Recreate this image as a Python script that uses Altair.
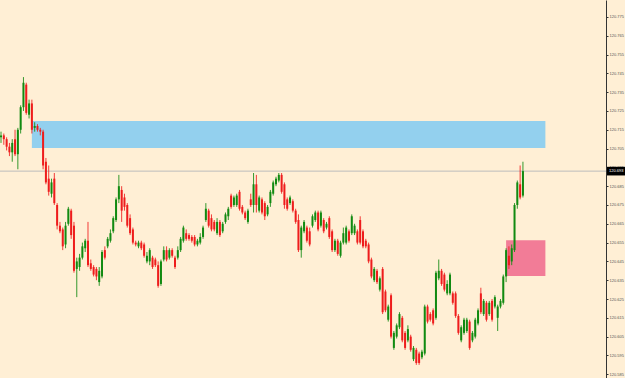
import altair as alt
import pandas as pd

# Prices are stored in points: price = 120 + pts / 1000
BASE = 120.0

open_pts = [711, 712, 710, 706, 703, 710, 702, 715,
            727, 739, 723, 729, 716, 717, 715, 714, 698, 689,
            681, 689, 675, 664, 662, 654, 665, 672, 664, 641,
            642, 647, 652, 656, 644, 642, 641, 634, 637, 651,
            653, 656, 661, 667, 678, 683, 679, 675, 668, 662,
            655, 653, 655, 654, 645, 645, 647, 646, 643, 633, 646,
            651, 647, 651, 647, 647, 651, 656, 660, 659, 658, 658, 654,
            655, 658, 667, 672, 668, 666, 660, 666, 661, 666,
            669, 680, 675, 675, 682, 674, 671, 666, 678, 675, 686,
            672, 678, 676, 670, 676, 681, 686, 688, 691, 686,
            678, 676, 677, 672, 667, 651, 661, 663, 661,
            664, 667, 671, 664, 667, 663, 668, 661, 651, 656,
            648, 655, 655, 661, 660, 660, 661, 667, 661, 656,
            654, 646, 635, 640, 630, 641, 629, 614, 627,
            599, 605, 610, 615, 607, 603, 605, 593, 598, 596,
            594, 596, 621, 617, 619, 615, 636, 640, 638, 628,
            628, 628, 628, 616, 603, 607, 608, 613, 603, 605,
            612, 628, 617, 623, 617, 624, 621, 615, 621, 623,
            637, 648, 645, 651, 675, 686, 680]

close_pts = [712, 710, 706, 703, 708, 702, 715, 727,
             740, 724, 729, 715, 717, 715, 714, 696, 687, 682,
             687, 676, 664, 661, 653, 664, 673, 659, 640, 645,
             647, 653, 656, 643, 641, 638, 637, 640, 650, 647,
             657, 660, 668, 678, 685, 672, 674, 664, 660, 655,
             654, 655, 652, 648, 648, 651, 642, 643, 632, 645, 651,
             646, 651, 648, 642, 651, 657, 663, 657, 657, 656, 654, 656,
             658, 663, 673, 664, 662, 662, 666, 659, 665, 670,
             673, 674, 679, 680, 673, 671, 668, 672, 675, 686, 675,
             679, 671, 669, 674, 682, 687, 689, 691, 682, 675,
             673, 679, 672, 666, 651, 663, 666, 656, 654,
             669, 671, 662, 671, 661, 665, 658, 651, 656, 649,
             655, 660, 663, 656, 669, 664, 655, 655, 653, 653,
             645, 637, 641, 634, 636, 618, 619, 621, 605,
             607, 611, 617, 603, 599, 609, 598, 599, 591, 591,
             597, 621, 613, 614, 612, 639, 640, 633, 630, 633,
             638, 623, 616, 607, 610, 614, 614, 599, 607, 614,
             619, 618, 624, 614, 623, 614, 626, 621, 624, 637,
             651, 643, 652, 675, 687, 679, 693]

high_pts = [714, 713, 711, 708, 710, 715, 716, 728,
            743, 740, 731, 731, 719, 718, 716, 715, 700, 696,
            689, 692, 676, 666, 663, 666, 674, 673, 666, 647,
            649, 655, 657, 666, 646, 643, 642, 642, 651, 653,
            658, 662, 669, 679, 691, 685, 681, 676, 670, 663,
            656, 656, 656, 655, 650, 652, 648, 647, 645, 646, 653,
            653, 652, 652, 648, 653, 658, 664, 662, 660, 659, 659, 657,
            660, 664, 676, 673, 670, 667, 668, 667, 666, 671,
            674, 681, 680, 681, 683, 675, 672, 673, 681, 692, 691,
            680, 679, 677, 675, 683, 688, 690, 692, 692, 687,
            679, 680, 678, 673, 670, 664, 667, 664, 663,
            670, 672, 672, 672, 668, 666, 669, 662, 657, 657,
            656, 663, 664, 662, 670, 665, 662, 669, 662, 657,
            655, 647, 642, 641, 637, 642, 630, 622, 628,
            608, 612, 618, 616, 608, 611, 606, 600, 599, 597,
            598, 622, 622, 618, 620, 640, 646, 641, 639, 635,
            639, 629, 629, 617, 611, 615, 615, 614, 608, 615,
            620, 631, 625, 624, 624, 625, 627, 622, 625, 638,
            652, 653, 654, 676, 688, 696, 698]

low_pts = [708, 707, 704, 701, 698, 701, 694, 713,
           725, 723, 721, 713, 714, 714, 712, 694, 686, 680,
           679, 675, 662, 660, 651, 652, 664, 657, 639, 626,
           640, 646, 650, 642, 640, 637, 635, 632, 636, 646,
           652, 655, 660, 666, 676, 666, 672, 663, 659, 654,
           653, 652, 651, 647, 644, 643, 641, 642, 631, 632, 645,
           645, 646, 647, 641, 646, 650, 655, 656, 656, 655, 653, 653,
           654, 657, 666, 663, 661, 661, 659, 658, 660, 665,
           667, 673, 674, 674, 672, 670, 667, 665, 674, 671, 671,
           671, 670, 667, 669, 674, 680, 685, 687, 681, 673,
           672, 675, 671, 665, 650, 647, 660, 655, 653,
           663, 666, 661, 663, 660, 662, 657, 650, 650, 648,
           647, 654, 654, 655, 659, 659, 654, 654, 652, 652,
           644, 636, 634, 633, 629, 617, 618, 613, 604,
           598, 604, 609, 602, 598, 602, 597, 592, 590, 590,
           593, 595, 612, 613, 611, 614, 635, 632, 629, 627,
           627, 622, 615, 606, 602, 606, 607, 598, 602, 604,
           611, 617, 616, 613, 616, 613, 620, 608, 620, 622,
           634, 641, 643, 650, 673, 678, 679]

# Zones: start bar, end bar, top price, bottom price
zone_names = ["supply", "demand"]
zone_start = [11, 180]
zone_end = [194, 194]
zone_top = [120.7196, 120.6563]
zone_bottom = [120.7053, 120.6372]
zone_colors = ["#93D0EE", "#F27C97"]

current_price = 120.693
tick_values = [120.585, 120.595, 120.605, 120.615, 120.625, 120.635, 120.645,
               120.655, 120.665, 120.675, 120.685, 120.695, 120.705, 120.715,
               120.725, 120.735, 120.745, 120.755, 120.765, 120.775, 120.785]

n = len(open_pts)
df = pd.DataFrame({
    "bar": list(range(n)),
    "open": [BASE + v / 1000 for v in open_pts],
    "close": [BASE + v / 1000 for v in close_pts],
    "high": [BASE + v / 1000 for v in high_pts],
    "low": [BASE + v / 1000 for v in low_pts],
})
df["dir"] = ["up" if c >= o else "down" for o, c in zip(df["open"], df["close"])]

zones = pd.DataFrame({"name": zone_names, "start": zone_start, "end": zone_end,
                      "top": zone_top, "bottom": zone_bottom})

xscale = alt.Scale(domain=[-0.36, 215.6], nice=False, zero=False, padding=0)
yscale = alt.Scale(domain=[120.583, 120.784], nice=False, zero=False)
yaxis = alt.Axis(orient="right", values=tick_values, format=".3f", title=None,
                 labelFontSize=4, labelColor="#555555", labelFont="Liberation Sans",
                 tickSize=2, tickColor="#333333", domainColor="#333333",
                 labelPadding=1, grid=False, labelOverlap=False, labelFlush=False)
color = alt.Color("dir:N", scale=alt.Scale(domain=["up", "down"], range=["#118A11", "#EE1C1C"]), legend=None)

zone_layer = alt.Chart(zones).mark_rect(opacity=1).encode(
    x=alt.X("start:Q", scale=xscale, axis=None),
    x2="end:Q",
    y=alt.Y("top:Q", scale=yscale, axis=yaxis),
    y2="bottom:Q",
    color=alt.Color("name:N", scale=alt.Scale(domain=zone_names, range=zone_colors), legend=None),
)

price_df = pd.DataFrame({"price": [current_price], "hi": [current_price + 0.0023],
                         "lo": [current_price - 0.0023], "label": [f"{current_price:.3f}"]})

price_line = alt.Chart(price_df).mark_rule(color="#BDBDBD", strokeWidth=1).encode(
    y=alt.Y("price:Q", scale=yscale, axis=yaxis),
    x=alt.value(0), x2=alt.value(606),
)

wicks = alt.Chart(df).mark_rule(strokeWidth=1, opacity=0.85).encode(
    x=alt.X("bar:Q", scale=xscale, axis=None),
    y=alt.Y("low:Q", scale=yscale, axis=yaxis),
    y2="high:Q",
    color=color,
)

bodies = alt.Chart(df).mark_bar(size=2).encode(
    x=alt.X("bar:Q", scale=xscale, axis=None),
    y=alt.Y("open:Q", scale=yscale, axis=yaxis),
    y2="close:Q",
    color=color,
)

price_box = alt.Chart(price_df).mark_rect(color="#000000").encode(
    x=alt.value(607), x2=alt.value(625),
    y=alt.Y("hi:Q", scale=yscale, axis=yaxis), y2="lo:Q",
)
price_text = alt.Chart(price_df).mark_text(color="#FFFFFF", fontSize=4, align="left",
                                           baseline="middle", font="Liberation Sans").encode(
    x=alt.value(609),
    y=alt.Y("price:Q", scale=yscale, axis=yaxis),
    text="label:N",
)

chart = alt.layer(zone_layer, price_line, wicks, bodies, price_box, price_text).properties(
    width=606, height=378,
    padding={"left": 0, "top": 0, "right": 19, "bottom": 0},
    autosize="none",
    background="#FFEFD5",
).configure_view(stroke=None).resolve_scale(color="independent")

chart.save("out.html", embed_options={"renderer": "svg", "actions": False})
